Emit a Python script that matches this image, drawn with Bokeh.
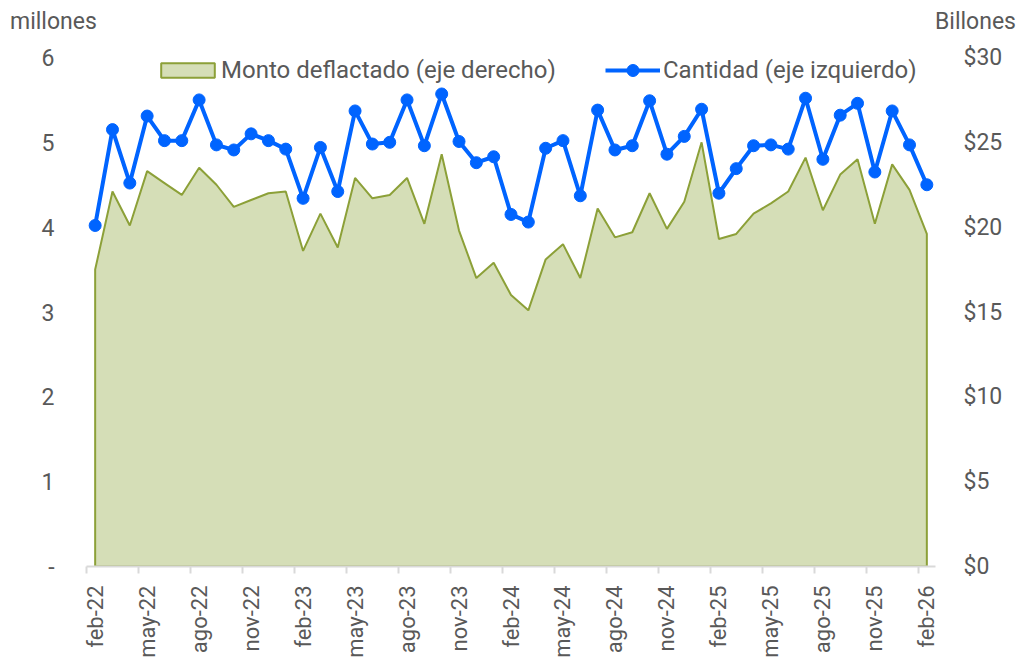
from bokeh.plotting import figure
from bokeh.models import (Range1d, LinearAxis, FixedTicker, Legend, LegendItem, Div)
from bokeh.layouts import column
from bokeh.embed import file_html
from bokeh.resources import INLINE
import math

# ---- data ----
cantidad = [4.02, 5.15, 4.52, 5.31, 5.02, 5.02, 5.50, 4.97, 4.91, 5.10, 5.02, 4.92,
            4.34, 4.94, 4.42, 5.37, 4.98, 5.00, 5.50, 4.96, 5.57, 5.01, 4.76, 4.83,
            4.15, 4.06, 4.93, 5.02, 4.37, 5.38, 4.91, 4.96, 5.49, 4.86, 5.07, 5.39,
            4.40, 4.69, 4.96, 4.97, 4.92, 5.52, 4.80, 5.32, 5.46, 4.65, 5.37, 4.97,
            4.50]
monto = [17.5, 22.1, 20.1, 23.3, 22.6, 21.9, 23.5, 22.5, 21.2, 21.6, 22.0, 22.1,
         18.6, 20.8, 18.8, 22.9, 21.7, 21.9, 22.9, 20.2, 24.3, 19.8, 17.0, 17.9,
         16.0, 15.1, 18.1, 19.0, 17.0, 21.1, 19.4, 19.7, 22.0, 19.9, 21.5, 25.0,
         19.3, 19.6, 20.8, 21.4, 22.1, 24.1, 21.0, 23.1, 24.0, 20.2, 23.7, 22.2,
         19.6]
tick_labels = ["feb-22", "may-22", "ago-22", "nov-22", "feb-23", "may-23", "ago-23",
               "nov-23", "feb-24", "may-24", "ago-24", "nov-24", "feb-25", "may-25",
               "ago-25", "nov-25", "feb-26"]
left_ticks = [0, 1, 2, 3, 4, 5, 6]
right_ticks = [0, 5, 10, 15, 20, 25, 30]
left_unit = "millones"
right_unit = "Billones"

idx = list(range(len(cantidad)))
FONT = "Roboto"
GRAY = "#595959"
BLUE = "#0064FF"
GREEN_FILL = "#D5DEB7"
GREEN_LINE = "#8CA038"

HEAD = 40
header = Div(
    text=('<div style="position:relative;width:1020px;height:%dpx;font-family:Roboto;'
          'font-size:23px;color:%s;line-height:27px;">'
          '<span style="position:absolute;left:10px;top:8px;">%s</span>'
          '<span style="position:absolute;left:935px;top:8px;">%s</span></div>')
    % (HEAD, GRAY, left_unit, right_unit),
    width=1020, height=HEAD, margin=0)

p = figure(frame_width=849, frame_height=509, output_backend="svg", toolbar_location=None,
           x_range=Range1d(-0.5, len(idx) - 0.5), y_range=Range1d(0, 6),
           min_border_left=86, min_border_right=85, min_border_top=57 - HEAD,
           min_border_bottom=88, margin=0)
p.outline_line_color = None
p.grid.visible = False
p.extra_y_ranges = {"right": Range1d(0, 30)}

# area (right axis)
px = [idx[0]] + idx + [idx[-1]]
py = [0] + monto + [0]
area = p.patch(px, py, y_range_name="right", fill_color=GREEN_FILL,
               line_color=GREEN_LINE, line_width=2)
# line (left axis)
ln = p.line(idx, cantidad, line_color=BLUE, line_width=4)
mk = p.scatter(idx, cantidad, size=12, fill_color=BLUE, line_color=BLUE)

# x axis
xa = p.xaxis[0]
major = idx[::3]
xa.ticker = FixedTicker(ticks=major, minor_ticks=[t - 0.5 for t in major])
xa.major_label_overrides = {t: lab for t, lab in zip(major, tick_labels)}
xa.major_label_orientation = math.pi / 2
xa.major_tick_out = 0
xa.major_tick_in = 0
xa.minor_tick_out = 7
xa.minor_tick_in = 0
xa.minor_tick_line_color = "#D9D9D9"
xa.minor_tick_line_width = 2
xa.axis_line_color = "#D9D9D9"
xa.axis_line_width = 2
xa.major_label_text_font = FONT
xa.major_label_text_font_size = "22px"
xa.major_label_text_color = GRAY
xa.major_label_standoff = 12

# left axis
ya = p.yaxis[0]
ya.ticker = FixedTicker(ticks=left_ticks)
ya.major_label_overrides = {0: "-"}
ya.axis_line_color = None
ya.major_tick_line_color = None
ya.minor_tick_line_color = None
ya.major_label_text_font = FONT
ya.major_label_text_font_size = "23px"
ya.major_label_text_color = GRAY
ya.major_label_standoff = 26

# right axis
ra = LinearAxis(y_range_name="right", ticker=FixedTicker(ticks=right_ticks))
ra.major_label_overrides = {t: "$" + str(t) for t in right_ticks}
ra.axis_line_color = None
ra.major_tick_line_color = None
ra.minor_tick_line_color = None
ra.major_label_text_font = FONT
ra.major_label_text_font_size = "23px"
ra.major_label_text_color = GRAY
ra.major_label_standoff = 22
p.add_layout(ra, "right")

common = dict(orientation="horizontal", padding=0, margin=0, spacing=0,
              label_text_font=FONT, label_text_font_size="24px",
              label_text_color=GRAY, background_fill_alpha=0, border_line_color=None)
leg1 = Legend(items=[LegendItem(label="Monto deflactado (eje derecho)", renderers=[area])],
              location=(68, 482), glyph_width=67, glyph_height=18, label_standoff=0,
              **common)
leg2 = Legend(items=[LegendItem(label="Cantidad (eje izquierdo)", renderers=[ln, mk])],
              location=(519, 481), glyph_width=55, glyph_height=30, label_standoff=3,
              **common)
p.add_layout(leg1, "center")
p.add_layout(leg2, "center")

layout = column(header, p, spacing=0, margin=0)
open("out.html", "w").write(file_html(layout, INLINE))
